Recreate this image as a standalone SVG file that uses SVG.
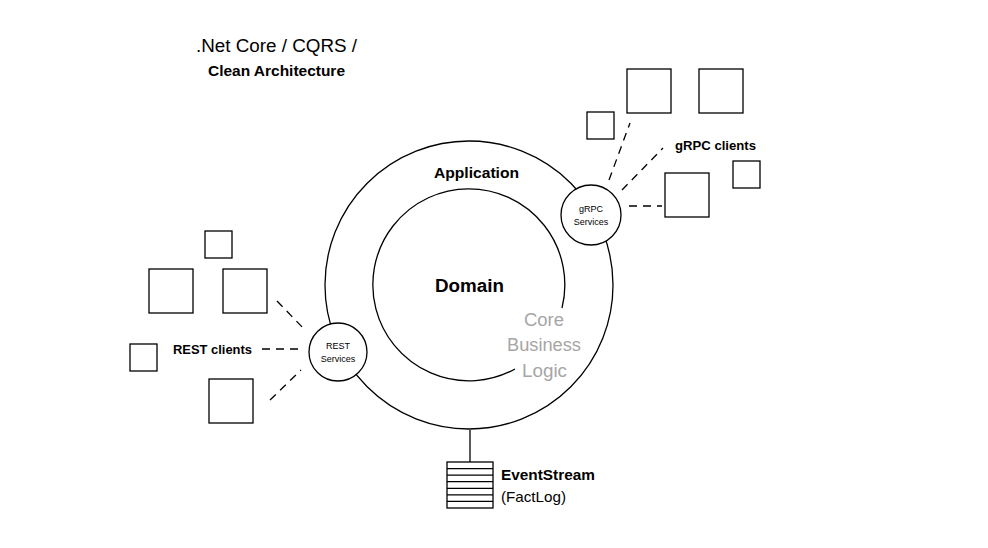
<svg xmlns="http://www.w3.org/2000/svg" width="988" height="548" viewBox="0 0 988 548">
<style>
.ln{fill:none;stroke:#000;stroke-width:1.3}
.box{fill:#fff;stroke:#000;stroke-width:1.3}
.dash{fill:none;stroke:#000;stroke-width:1.3;stroke-dasharray:8 6}
text{font-family:"Liberation Sans",Arial,sans-serif;fill:#000}
.b{font-weight:bold}
.sm{font-size:9px}
.core{fill:#a6a6a6;font-size:18px}
</style>
<rect width="988" height="548" fill="#fff"/>
<g id="title">
<text x="196" y="52" font-size="18" textLength="161" lengthAdjust="spacingAndGlyphs">.Net Core / CQRS /</text>
<text x="208" y="76" font-size="14" class="b" textLength="137" lengthAdjust="spacingAndGlyphs">Clean Architecture</text>
</g>
<g id="connectors">
<line class="ln" x1="470" y1="430" x2="470" y2="462"/>
<line class="dash" x1="609" y1="180" x2="630" y2="123"/>
<line class="dash" x1="622" y1="190" x2="663" y2="148"/>
<line class="dash" x1="629" y1="206" x2="662" y2="206"/>
<line class="dash" x1="277" y1="301" x2="305" y2="330"/>
<line class="dash" x1="262" y1="349" x2="300" y2="349"/>
<line class="dash" x1="270" y1="400" x2="301" y2="370"/>
</g>
<g id="application">
<circle class="ln" cx="469" cy="285" r="144"/>
<text x="434" y="178" font-size="14" class="b" textLength="85" lengthAdjust="spacingAndGlyphs">Application</text>
</g>
<g id="domain">
<path class="ln" d="M 562 308 A 96 96 0 1 0 515 369"/>
<text x="435" y="292" font-size="18" class="b" textLength="69" lengthAdjust="spacingAndGlyphs">Domain</text>
<text class="core" x="524" y="326" textLength="40" lengthAdjust="spacingAndGlyphs">Core</text>
<text class="core" x="507" y="351" textLength="74" lengthAdjust="spacingAndGlyphs">Business</text>
<text class="core" x="522" y="377" textLength="45" lengthAdjust="spacingAndGlyphs">Logic</text>
</g>
<g id="grpc-services">
<circle class="box" cx="591" cy="215" r="30"/>
<text class="sm" x="591" y="212" text-anchor="middle">gRPC</text>
<text class="sm" x="591" y="225" text-anchor="middle">Services</text>
</g>
<g id="rest-services">
<circle class="box" cx="338" cy="352" r="29"/>
<text class="sm" x="338" y="349" text-anchor="middle">REST</text>
<text class="sm" x="338" y="362" text-anchor="middle">Services</text>
</g>
<g id="grpc-clients">
<rect class="box" x="587" y="112" width="27" height="27"/>
<rect class="box" x="627" y="69" width="44" height="44"/>
<rect class="box" x="699" y="69" width="44" height="44"/>
<rect class="box" x="665" y="173" width="44" height="44"/>
<rect class="box" x="733" y="161" width="27" height="27"/>
<text x="675" y="150" font-size="13" class="b" textLength="81" lengthAdjust="spacingAndGlyphs">gRPC clients</text>
</g>
<g id="rest-clients">
<rect class="box" x="205" y="231" width="27" height="27"/>
<rect class="box" x="149" y="269" width="44" height="44"/>
<rect class="box" x="223" y="269" width="44" height="44"/>
<rect class="box" x="130" y="344" width="27" height="27"/>
<rect class="box" x="209" y="379" width="44" height="44"/>
<text x="173" y="354" font-size="13" class="b" textLength="79" lengthAdjust="spacingAndGlyphs">REST clients</text>
</g>
<g id="eventstream">
<rect class="box" x="447" y="462" width="46" height="46"/>
<line class="ln" x1="447" y1="468.6" x2="493" y2="468.6"/>
<line class="ln" x1="447" y1="475.1" x2="493" y2="475.1"/>
<line class="ln" x1="447" y1="481.7" x2="493" y2="481.7"/>
<line class="ln" x1="447" y1="488.3" x2="493" y2="488.3"/>
<line class="ln" x1="447" y1="494.9" x2="493" y2="494.9"/>
<line class="ln" x1="447" y1="501.4" x2="493" y2="501.4"/>
<text x="501" y="480" font-size="15" class="b" textLength="94" lengthAdjust="spacingAndGlyphs">EventStream</text>
<text x="501" y="502" font-size="15" textLength="65" lengthAdjust="spacingAndGlyphs">(FactLog)</text>
</g>
</svg>
